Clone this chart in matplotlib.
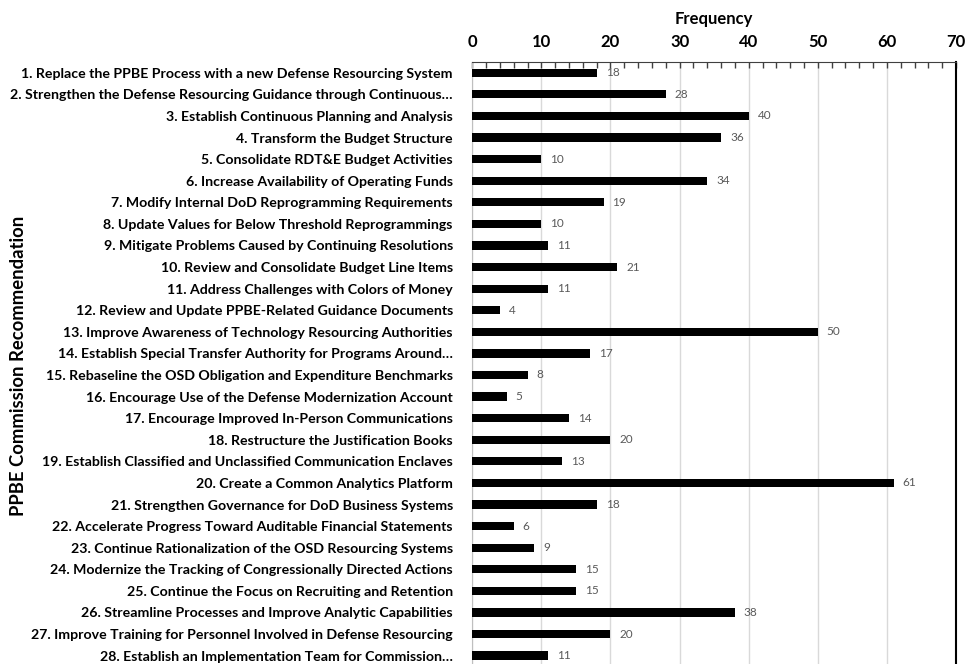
import matplotlib.pyplot as plt
from matplotlib.ticker import MultipleLocator

recommendations = [
    "1. Replace the PPBE Process with a new Defense Resourcing System",
    "2. Strengthen the Defense Resourcing Guidance through Continuous\u2026",
    "3. Establish Continuous Planning and Analysis",
    "4. Transform the Budget Structure",
    "5. Consolidate RDT&E Budget Activities",
    "6. Increase Availability of Operating Funds",
    "7. Modify Internal DoD Reprogramming Requirements",
    "8. Update Values for Below Threshold Reprogrammings",
    "9. Mitigate Problems Caused by Continuing Resolutions",
    "10. Review and Consolidate Budget Line Items",
    "11. Address Challenges with Colors of Money",
    "12. Review and Update PPBE-Related Guidance Documents",
    "13. Improve Awareness of Technology Resourcing Authorities",
    "14. Establish Special Transfer Authority for Programs Around\u2026",
    "15. Rebaseline the OSD Obligation and Expenditure Benchmarks",
    "16. Encourage Use of the Defense Modernization Account",
    "17. Encourage Improved In-Person Communications",
    "18. Restructure the Justification Books",
    "19. Establish Classified and Unclassified Communication Enclaves",
    "20. Create a Common Analytics Platform",
    "21. Strengthen Governance for DoD Business Systems",
    "22. Accelerate Progress Toward Auditable Financial Statements",
    "23. Continue Rationalization of the OSD Resourcing Systems",
    "24. Modernize the Tracking of Congressionally Directed Actions",
    "25. Continue the Focus on Recruiting and Retention",
    "26. Streamline Processes and Improve Analytic Capabilities",
    "27. Improve Training for Personnel Involved in Defense Resourcing",
    "28. Establish an Implementation Team for Commission\u2026",
]
frequency = [18, 28, 40, 36, 10, 34, 19, 10, 11, 21, 11, 4, 50, 17,
             8, 5, 14, 20, 13, 61, 18, 6, 9, 15, 15, 38, 20, 11]

plt.rcParams['font.family'] = ['Lato', 'DejaVu Sans']

fig = plt.figure(figsize=(9.65, 6.64), dpi=100)
ax = fig.add_axes([0.4894, -0.0036, 0.5013, 0.9102])

ypos = list(range(len(frequency)))
ax.barh(ypos, frequency, height=0.38, color='black', zorder=3)
for y, v in zip(ypos, frequency):
    ax.text(v + 1.3, y, str(v), va='center', ha='left', fontsize=8.5,
            color='#595959', zorder=4)

ax.set_ylim(len(frequency) - 0.5, -0.5)
ax.set_xlim(0, 70)
ax.set_yticks(ypos)
ax.set_yticklabels(recommendations, fontsize=10.15, fontweight='bold')
ax.tick_params(axis='y', length=0, pad=14)

ax.xaxis.set_major_locator(MultipleLocator(10))
ax.xaxis.set_minor_locator(MultipleLocator(2))
ax.xaxis.tick_top()
ax.xaxis.set_label_position('top')
ax.tick_params(axis='x', which='both', direction='in', length=4,
               width=1, color='#404040', labelsize=12, pad=9)
for lbl in ax.get_xticklabels():
    lbl.set_fontweight('bold')
ax.set_xlabel('Frequency', fontsize=12, fontweight='bold', labelpad=7)

# category axis title sits at the far left edge of the figure
fig.text(0.019, 0.449, 'PPBE Commission Recommendation', rotation=90,
         ha='center', va='center', fontsize=13.3, fontweight='bold')

ax.grid(axis='x', which='major', color='#d9d9d9', linewidth=1, zorder=0)
ax.spines['top'].set_color('#404040')
ax.spines['left'].set_color('#bfbfbf')
ax.spines['right'].set_color('black')
ax.spines['right'].set_linewidth(1.5)
ax.spines['bottom'].set_visible(False)

fig.savefig('out.png', dpi=100)
